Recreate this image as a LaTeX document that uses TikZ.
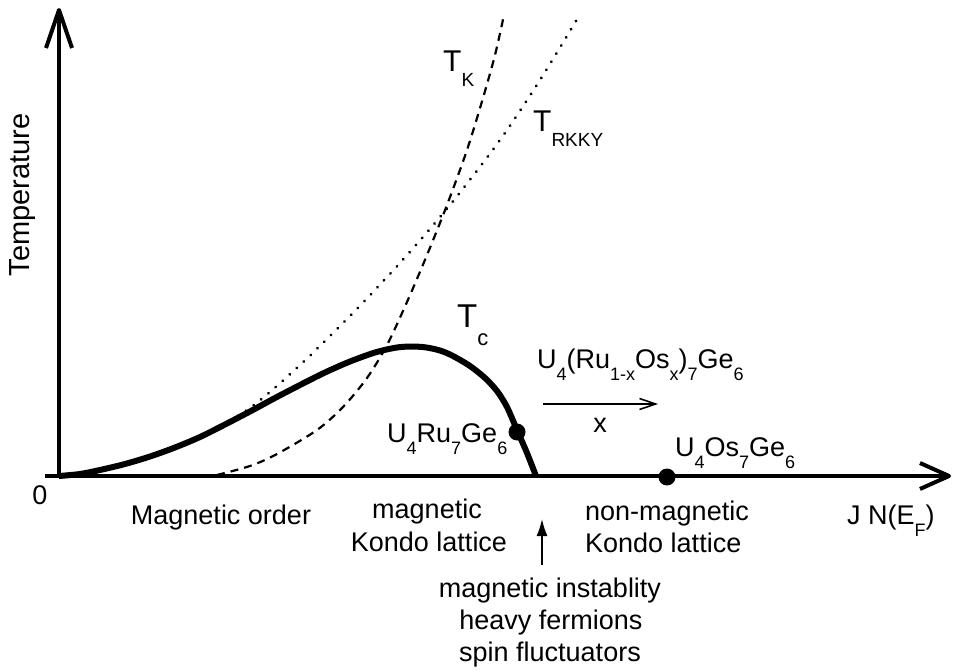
\documentclass[tikz,border=0pt]{standalone}
\usepackage{fontspec}
\setmainfont{Liberation Sans}
\usetikzlibrary{arrows.meta}
\newcommand{\lsub}[1]{\raisebox{-0.45em}{\fontsize{18}{18}\selectfont #1}}
\begin{document}
\begin{tikzpicture}[x=1pt,y=-1pt,
  lbl/.style={inner sep=0pt, font=\fontsize{27}{32}\selectfont},
  axisline/.style={line width=4pt, line join=round},
  tcline/.style={line width=6pt, line join=round},
  tkline/.style={line width=2.2pt, dash pattern=on 8pt off 6pt},
  rkline/.style={line width=3.2pt, line cap=round, dash pattern=on 0.01pt off 9.5pt},
  dotn/.style={circle, fill=black, inner sep=0pt, minimum size=17pt},
  thinarrow/.style={line width=1.6pt, -{Straight Barb[length=16pt,width=11pt,line width=1.6pt]}},
  uparrow/.style={line width=1.6pt, -{Latex[length=17pt,width=11pt]}}]
\useasboundingbox (0,0) rectangle (954,671);
% curves
\draw[rkline] plot[smooth] coordinates {(59,476) (100,470) (150,456) (200,436) (250,408) (300,365) (350,316) (400,263) (450,205) (500,140) (540,80) (576,21)};
\draw[tkline] plot[smooth] coordinates {(217,475) (250,466) (277,454) (317,430) (343,407) (367,378) (387,345) (407,302) (427,255) (447,205) (467,150) (483,98) (495,55) (504,15)};
\draw[tcline] plot[smooth] coordinates {(59,476) (80,474) (100,470) (125,464) (150,456.5) (175,447.5) (200,437) (225,424.5) (250,411.5) (275,398) (300,385) (325,372.5) (350,361.5) (375,352.5) (395,347.8) (410,346.5) (425,347.3) (440,350.5) (453,356) (470,366) (485,378) (497,391) (507,407) (517,430) (527,453) (536,476)};
% axes
\coordinate (O) at (59,478);
\coordinate (ytip) at (59,10);
\coordinate (xstart) at (45,476);
\coordinate (xtip) at (949,476);
\draw[axisline] (xstart) -- (xtip);
\draw[axisline] (O) -- (ytip);
\draw[axisline] (46,48) -- (ytip) -- (72,48);
\draw[axisline] (920,463) -- (xtip) -- (920,489);
% dots
\node[dotn] (ru) at (517,432) {};
\node[dotn] (os) at (667,477) {};
% curve labels
\node[lbl, anchor=base west] (tc) at (457,327) {\fontsize{33}{33}\selectfont T\raisebox{-0.55em}{\fontsize{22}{22}\selectfont c}};
\node[lbl, anchor=base west] (tk) at (443,72) {\fontsize{30}{30}\selectfont T\raisebox{-0.5em}{\fontsize{19}{19}\selectfont K}};
\node[lbl, anchor=base west] (trkky) at (533,132) {\fontsize{30}{30}\selectfont T\raisebox{-0.5em}{\fontsize{19}{19}\selectfont RKKY}};
% compounds
\node[lbl, anchor=base west] (alloy) at (537,368) {U\lsub{4}(Ru\lsub{1-x}Os\lsub{x})\lsub{7}Ge\lsub{6}};
\node[lbl, anchor=base west] (ruge) at (387,442) {U\lsub{4}Ru\lsub{7}Ge\lsub{6}};
\node[lbl, anchor=base west] (osge) at (675,456) {U\lsub{4}Os\lsub{7}Ge\lsub{6}};
\coordinate (xa) at (543,404);
\coordinate (xb) at (658,404);
\draw[thinarrow] (xa) -- (xb);
\node[lbl, anchor=base] (xl) at (600,432) {x};
% axis labels
\node[lbl, anchor=base] (zero) at (40,504) {0};
\node[lbl, rotate=90, font=\fontsize{29}{32}\selectfont] (temp) at (23,195) {Temperature};
\node[lbl, anchor=base west] (jn) at (847,524) {J N(E\lsub{F})};
% region labels
\node[lbl, anchor=base] (mo) at (221,524) {Magnetic order};
\node[lbl, anchor=base] (mk1) at (427,518) {magnetic};
\node[lbl, anchor=base] (mk2) at (429,551) {Kondo lattice};
\node[lbl, anchor=base west] (nm1) at (585,520) {non-magnetic};
\node[lbl, anchor=base west] (nm2) at (585,552) {Kondo lattice};
% instability
\coordinate (ua) at (542,565);
\coordinate (ub) at (542,519);
\draw[uparrow] (ua) -- (ub);
\node[lbl, anchor=base] (mi) at (550,597) {magnetic instablity};
\node[lbl, anchor=base] (hf) at (551,629) {heavy fermions};
\node[lbl, anchor=base] (sf) at (550,661) {spin fluctuators};
\end{tikzpicture}
\end{document}
